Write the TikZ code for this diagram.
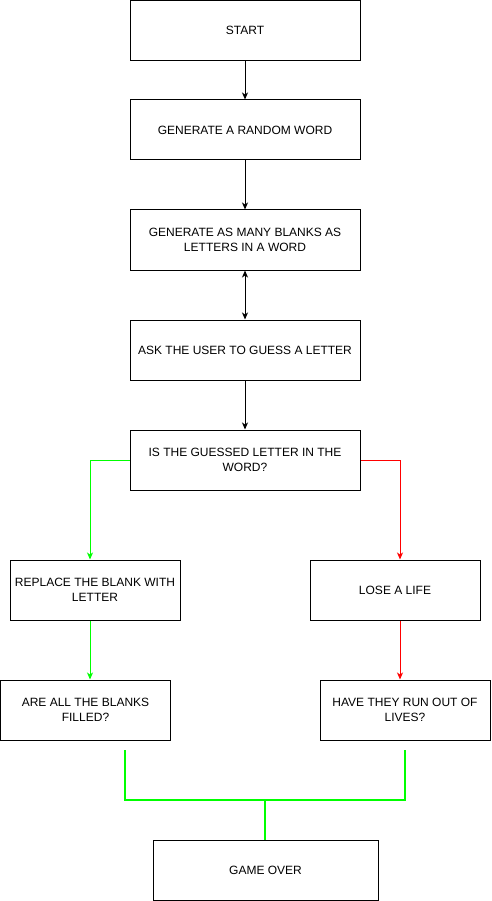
\documentclass[tikz,border=0pt]{standalone}
\usepackage{fontspec}
\setmainfont{Liberation Sans}
\usetikzlibrary{arrows.meta}
\tikzset{
  box/.style={draw, line width=1pt, minimum width=230pt, minimum height=60pt, inner sep=2pt, align=center,
    font=\fontsize{12pt}{15pt}\selectfont},
  smallbox/.style={box, minimum width=170pt},
  goverbox/.style={box, minimum width=225pt},
  conn/.style={line width=1pt, -{Stealth[length=7pt,width=6pt,inset=2pt]}},
  dconn/.style={line width=1pt, {Stealth[length=7pt,width=6pt,inset=2pt]}-{Stealth[length=7pt,width=6pt,inset=2pt]}},
  yesline/.style={conn, draw={rgb,255:red,0;green,255;blue,0}},
  noline/.style={conn, draw={rgb,255:red,255;green,0;blue,0}},
  joinline/.style={line width=2pt, draw={rgb,255:red,0;green,255;blue,0}}
}
\begin{document}
\begin{tikzpicture}[x=1pt,y=-1pt]
\useasboundingbox (0,0) rectangle (491,901);
\node[box] (n1) at (245,30.5) {START};
\node[box] (n2) at (245,130) {GENERATE A RANDOM WORD};
\node[box] (n3) at (245,240) {GENERATE AS MANY BLANKS AS\\LETTERS IN A WORD};
\node[box] (n4) at (245,350) {ASK THE USER TO GUESS A LETTER};
\node[box] (n5) at (245,460) {IS THE GUESSED LETTER IN THE\\WORD?};
\node[smallbox] (n6) at (95,590) {REPLACE THE BLANK WITH\\LETTER};
\node[smallbox] (n7) at (395,590) {LOSE A LIFE};
\node[smallbox] (n8) at (85.5,710) {ARE ALL THE BLANKS\\FILLED?};
\node[smallbox] (n9) at (405,710) {HAVE THEY RUN OUT OF\\LIVES?};
\node[goverbox] (n10) at (265.5,870) {GAME OVER};

\draw[conn] (n1) -- (n2);
\draw[conn] (n2) -- (n3);
\draw[dconn] (n3) -- (n4);
\draw[conn] (n4) -- (n5);
\draw[yesline] (n5.west) -| ([xshift=-5pt]n6.north);
\draw[noline] (n5.east) -| ([xshift=5pt]n7.north);
\draw[yesline] ([xshift=-5pt]n6.south) -- ([xshift=4.5pt]n8.north);
\draw[noline] ([xshift=5pt]n7.south) -- ([xshift=-5pt]n9.north);

\coordinate (gl) at (125,750);
\coordinate (gr) at (405,750);
\coordinate (gm) at (265,800);
\draw[joinline] (gl) |- (gm) -| (gr);
\draw[joinline] (gm) -- (gm |- n10.north);
\end{tikzpicture}
\end{document}
